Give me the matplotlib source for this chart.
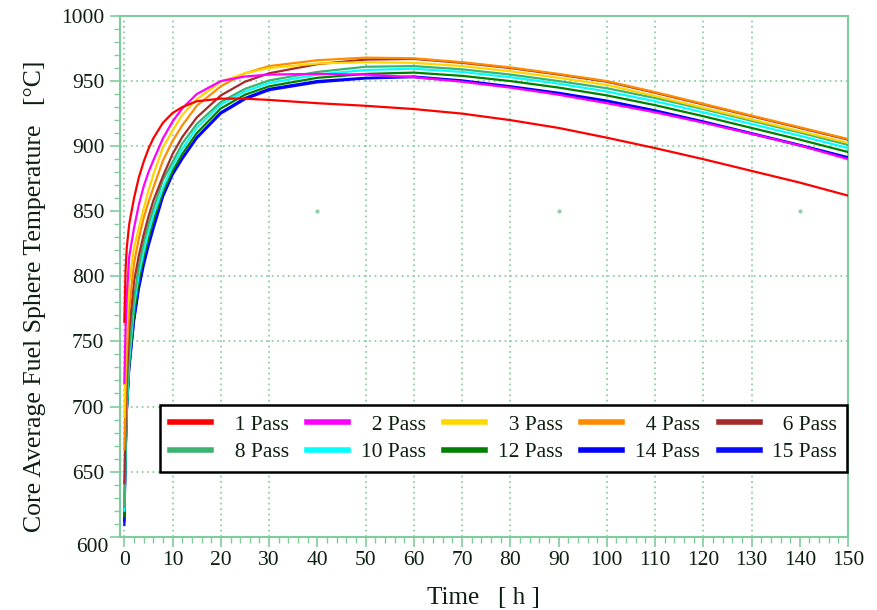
import numpy as np
import matplotlib
matplotlib.use("Agg")
import matplotlib.pyplot as plt
from matplotlib.ticker import MultipleLocator, FuncFormatter

# ------------------------------------------------------------
# Data
# ------------------------------------------------------------
time_h = [0, 0.25, 0.5, 1, 2, 3, 4, 5, 6, 8, 10, 12, 15, 20, 25, 30,
          40, 50, 60, 70, 80, 90, 100, 110, 120, 130, 140, 150]

pass_1 = [765, 805, 822, 840, 860, 876, 888, 898, 906, 918, 925.5, 930, 934.5, 936.5, 936.5, 935.5,
          933, 931, 928.5, 925, 920, 914, 906.5, 898.5, 890, 881, 872, 862]
pass_2 = [718, 760, 785, 815, 837, 855, 869, 880, 889, 906, 919, 929, 940, 950, 953.5, 955,
          955.5, 955, 953, 949.5, 945, 939.5, 933, 926, 918, 909.5, 900.5, 890]
pass_3 = [692, 735, 762, 795, 822, 837, 852, 866, 878, 899, 912, 924, 936, 949.5, 956, 960,
          963.5, 964.5, 964, 961.5, 957.5, 952.5, 947, 938.5, 929.5, 920.5, 911.5, 902.5]
pass_4 = [667, 710, 740, 775, 810, 829, 845, 857, 868, 889, 904, 916, 931, 946, 956, 961.5,
          966, 968, 967.5, 964.5, 960.5, 955.5, 950, 941.5, 932.5, 923.5, 914.5, 905.5]
pass_6 = [641, 690, 722, 758, 796, 816, 832, 846, 858, 877, 894, 907, 922, 939, 949.5, 956,
          963, 966.5, 967, 964, 960, 955, 949.5, 941, 932, 923, 914, 905]
pass_8 = [623, 672, 705, 742, 783, 808, 826, 840, 852, 874, 888, 902, 917, 934, 944, 950.5,
          957, 961, 961.5, 959, 955, 950, 944.5, 937, 928.5, 919.5, 910.5, 901]
pass_10 = [620, 665, 698, 735, 777, 802, 819, 834, 847, 868, 885, 898, 914, 932, 942, 948.5,
           955, 958.5, 959.5, 957, 953, 948, 942, 934.5, 926, 917, 908, 898.5]
pass_12 = [616, 662, 696, 731, 771, 797, 815, 829, 843, 865, 881, 894, 910, 929, 939.5, 946,
           952.5, 955.5, 956.5, 954, 950, 945, 939, 931.5, 923, 914, 905, 895.5]
pass_14 = [612, 662, 697, 730, 767, 792, 810, 825, 838, 862, 879, 891, 907, 926, 937, 944,
           950, 952.5, 953.5, 950.5, 946, 941, 935, 927.5, 919, 910, 901, 891.5]
pass_15 = [609, 660, 695, 728, 765, 790, 808, 823, 836, 861, 878, 890, 906, 925, 936, 943,
           949, 952, 953, 950, 945.5, 940.5, 934.5, 927, 918.5, 909.5, 900.5, 891]

series = [pass_1, pass_2, pass_3, pass_4, pass_6, pass_8, pass_10, pass_12, pass_14, pass_15]
labels = ["\u20071 Pass", "\u20072 Pass", "\u20073 Pass", "\u20074 Pass", "\u20076 Pass",
          "\u20078 Pass", "10 Pass", "12 Pass", "14 Pass", "15 Pass"]
colors = ["#ff0000", "#ff00ff", "#ffd700", "#ff8c00", "#a52a2a",
          "#3cb371", "#00ffff", "#008000", "#0000ff", "#0a0aff"]

# grid lines that actually show up in the picture
grid_x = [0, 10, 20, 30, 50, 60, 70, 80, 100, 110, 120, 130]
grid_y = [650, 700, 750, 800, 900, 950]
grid_dots_x = [40, 90, 140]
grid_dots_y = [850, 850, 850]

# ------------------------------------------------------------
# Style
# ------------------------------------------------------------
plt.rcParams['font.family'] = ['Liberation Serif', 'DejaVu Serif']
GREEN = "#7fcd9c"
GRID = "#8ed1a6"
TXT = "#0d1f10"
FS = 15.5

fig = plt.figure(figsize=(8.77, 6.10), dpi=100)
ax = fig.add_axes([0.1363, 0.1202, 0.8307, 0.8536])

for gx in grid_x:
    ax.axvline(gx, color=GRID, lw=1.3, ls=(0, (1, 2)), zorder=0)
for gy in grid_y:
    ax.axhline(gy, color=GRID, lw=1.3, ls=(0, (1, 2)), zorder=0)
ax.scatter(grid_dots_x, grid_dots_y, s=4, color=GRID, zorder=0)

# drawn from 15 Pass down to 1 Pass so that 1 Pass ends on top
n = len(series)
handles = []
for i, (vals, lab, col) in enumerate(zip(series, labels, colors)):
    h, = ax.plot(time_h, vals, color=col, lw=1.6, label=lab, zorder=10 + n - i)
    handles.append(h)

ax.set_xlim(-1, 150)
ax.set_ylim(600, 1000)
ax.xaxis.set_major_locator(MultipleLocator(10))
ax.xaxis.set_minor_locator(MultipleLocator(2))
ax.yaxis.set_major_locator(MultipleLocator(50))
ax.yaxis.set_minor_locator(MultipleLocator(10))
# the 600 label sits a bit lower in the original, drawn separately below
ax.yaxis.set_major_formatter(FuncFormatter(lambda v, p: "" if v == 600 else f"{v:.0f}"))

for s in ax.spines.values():
    s.set_color(GREEN)
    s.set_linewidth(1.5)
ax.tick_params(which='major', length=7, width=1.2, color=GREEN,
               labelsize=FS, labelcolor=TXT, pad=3)
ax.tick_params(which='minor', length=4, width=1.0, color=GREEN)
ax.tick_params(axis='y', which='both', pad=4)

ax.annotate("600", xy=(0, 600), xycoords=('axes fraction', 'data'),
            xytext=(-11, -11), textcoords='offset pixels',
            ha='right', va='center', fontsize=FS, color=TXT)

ax.set_xlabel("Time   [ h ]", fontsize=18, color=TXT)
ax.xaxis.set_label_coords(0.5, -0.118)
ax.xaxis.label.set_va('center')
ax.set_ylabel("Core Average Fuel Sphere Temperature   [°C]", fontsize=18.5, color=TXT)
ax.yaxis.set_label_coords(-0.116, 0.462)
ax.yaxis.label.set_va('center')

# legend filled row by row like the original (matplotlib fills by column)
order = [0, 5, 1, 6, 2, 7, 3, 8, 4, 9]
leg = ax.legend([handles[k] for k in order], [labels[k] for k in order],
                ncol=5, mode='expand', loc='lower left',
                bbox_to_anchor=(0.0556, 0.124, 0.943, 0.125), borderaxespad=0,
                fontsize=FS, handlelength=1.9, handletextpad=0.6,
                labelspacing=0.35, borderpad=0.45, fancybox=False,
                edgecolor='black', framealpha=1, columnspacing=1.0)
leg.get_frame().set_linewidth(1.8)
for line in leg.get_lines():
    line.set_linewidth(4)
for t in leg.get_texts():
    t.set_color(TXT)
leg.set_zorder(30)

fig.savefig("out.png", dpi=100)
